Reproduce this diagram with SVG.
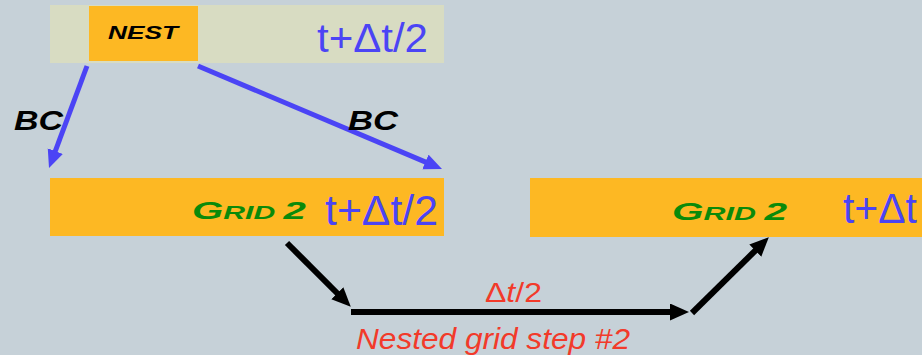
<svg xmlns="http://www.w3.org/2000/svg" width="922" height="355" viewBox="0 0 922 355">
<style>
.bg{fill:#C6D1D8}
.khaki{fill:#D8DCC2}
.orange{fill:#FDB823}
.blue{font-family:"Liberation Sans",Arial,sans-serif;fill:#4B44F5}
.caps{font-family:"Liberation Sans",Arial,sans-serif;font-style:italic;font-weight:bold}
.red{font-family:"Liberation Sans",Arial,sans-serif;fill:#F23A2A}
.bl{stroke:#4B44F5;stroke-width:5;fill:none}
.bk{stroke:#000;stroke-width:6;fill:none}
</style>
<defs>
<marker id="ab" markerUnits="userSpaceOnUse" markerWidth="20" markerHeight="18" refX="8" refY="8" orient="auto">
<path d="M0,0 L18,8 L0,16 z" fill="#4B44F5"/>
</marker>
<marker id="ak" markerUnits="userSpaceOnUse" markerWidth="20" markerHeight="18" refX="8" refY="8.5" orient="auto">
<path d="M0,0 L19,8.5 L0,17 z" fill="#000"/>
</marker>
</defs>
<rect class="bg" x="0" y="0" width="922" height="355"/>
<g id="top-bar">
<rect class="khaki" x="50" y="5" width="394" height="58"/>
<text class="blue" x="317" y="52" font-size="40" textLength="111" lengthAdjust="spacingAndGlyphs">t+Δt/2</text>
</g>
<g id="nest">
<rect class="orange" x="89" y="6" width="109" height="55"/>
<text class="caps" x="108" y="39" font-size="18" textLength="70" lengthAdjust="spacingAndGlyphs">NEST</text>
</g>
<g id="grid2-left">
<rect class="orange" x="50" y="178" width="394" height="58"/>
<text class="caps" x="192" y="219" fill="#0A8A0A" textLength="114" lengthAdjust="spacingAndGlyphs"><tspan font-size="24">G</tspan><tspan font-size="18">RID </tspan><tspan font-size="24">2</tspan></text>
<text class="blue" x="325" y="225" font-size="42" textLength="113" lengthAdjust="spacingAndGlyphs">t+Δt/2</text>
</g>
<g id="grid2-right">
<rect class="orange" x="530" y="178" width="392" height="59"/>
<text class="caps" x="672" y="220" fill="#0A8A0A" textLength="115" lengthAdjust="spacingAndGlyphs"><tspan font-size="24">G</tspan><tspan font-size="18">RID </tspan><tspan font-size="24">2</tspan></text>
<text class="blue" x="843" y="223" font-size="42" textLength="74" lengthAdjust="spacingAndGlyphs">t+Δt</text>
</g>
<g id="connectors">
<line class="bl" x1="87" y1="66" x2="52.5" y2="158.6" marker-end="url(#ab)"/>
<line class="bl" x1="198" y1="66" x2="432.8" y2="165.1" marker-end="url(#ab)"/>
<line class="bk" x1="287" y1="243" x2="343" y2="299" marker-end="url(#ak)"/>
<line class="bk" x1="351" y1="312" x2="678" y2="312" marker-end="url(#ak)"/>
<line class="bk" x1="692" y1="313" x2="761" y2="245" marker-end="url(#ak)"/>
</g>
<g id="labels">
<text class="caps" x="14" y="130" font-size="28" textLength="49" lengthAdjust="spacingAndGlyphs">BC</text>
<text class="caps" x="348" y="130" font-size="28" textLength="50" lengthAdjust="spacingAndGlyphs">BC</text>
<text class="red" x="485" y="302" font-size="28" textLength="57" lengthAdjust="spacingAndGlyphs">Δ<tspan font-style="italic">t</tspan>/2</text>
<text class="red" x="356" y="349" font-size="30" font-style="italic" textLength="274" lengthAdjust="spacingAndGlyphs">Nested grid step #2</text>
</g>
</svg>
